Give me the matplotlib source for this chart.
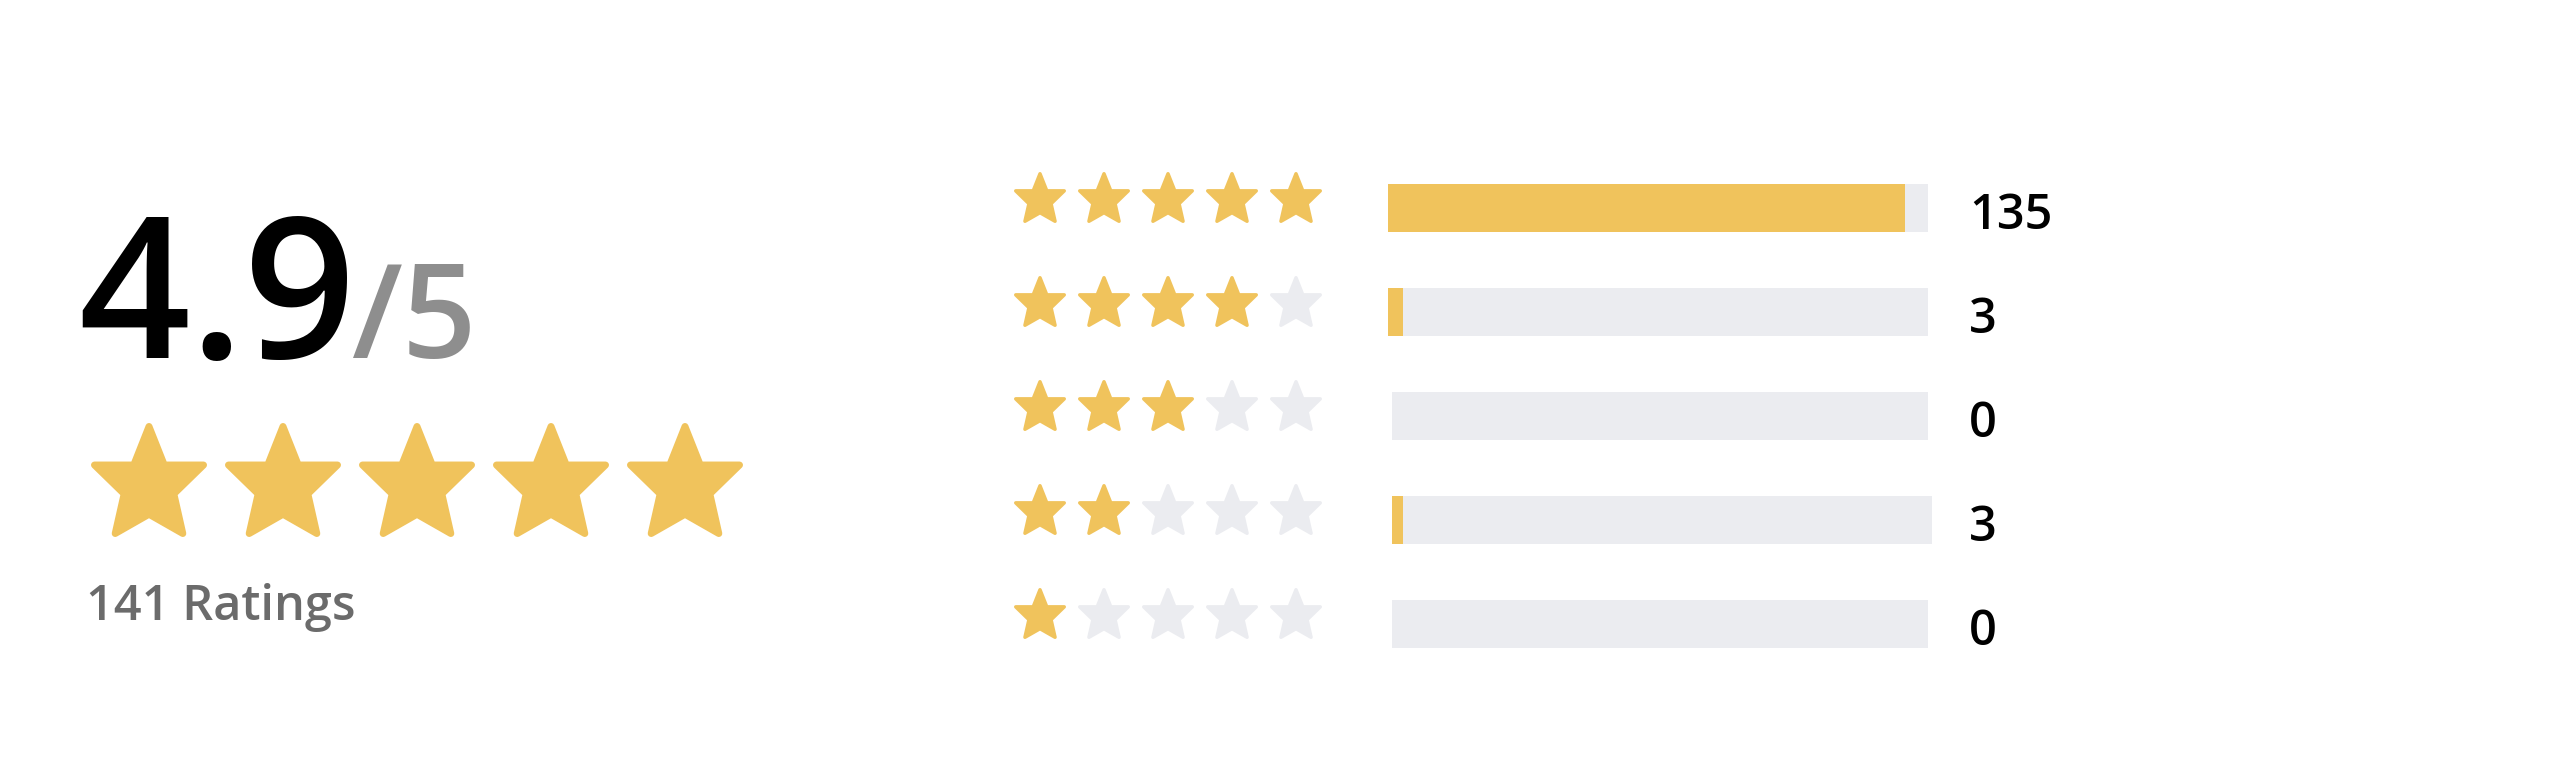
import numpy as np
import matplotlib.pyplot as plt
from matplotlib.patches import Polygon

plt.rcParams['font.family'] = ['Open Sans', 'DejaVu Sans']
plt.rcParams['font.weight'] = 'semibold'

# data
average = 4.9
max_score = 5
star_levels = [5, 4, 3, 2, 1]
counts = [135, 3, 0, 3, 0]
total = sum(counts)

gold = '#f0c35c'
empty = '#ebecf0'

# star outline in a unit box (x right, y down)
STAR = np.array([
    [0.50, 0.00], [0.64, 0.36], [1.00, 0.36], [0.728, 0.63], [0.81, 1.00],
    [0.50, 0.82], [0.19, 1.00], [0.272, 0.63], [0.00, 0.36], [0.36, 0.36],
])


def star(ax, left, top, w, h, color, lw):
    e = lw / 2 * 100 / 72
    pts = np.column_stack([left + e + STAR[:, 0] * (w - 2 * e),
                           top + e + STAR[:, 1] * (h - 2 * e)])
    ax.add_patch(Polygon(pts, closed=True, facecolor=color, edgecolor=color,
                         linewidth=lw, joinstyle='round'))


fig = plt.figure(figsize=(25.68, 7.68), dpi=100)
ax = fig.add_axes([0, 0, 1, 1])
ax.set_xlim(0, 2568)
ax.set_ylim(768, 0)
ax.axis('off')

# left summary
ax.text(78, 358, f'{average}', fontsize=141, color='black', ha='left', va='baseline')
ax.text(352, 358, f'/{max_score}', fontsize=94, color='#8e8e8e', ha='left', va='baseline')
for j in range(max_score):
    star(ax, 91 + 134 * j, 423, 116, 114, gold, lw=5)
ax.text(86, 620, f'{total} Ratings', fontsize=35, color='#6b6b6b', ha='left', va='baseline')

# breakdown rows
row_y = 208 + 104 * np.arange(len(star_levels))
bar_left = [1388, 1388, 1392, 1392, 1392]
bar_right = [1928, 1928, 1928, 1932, 1928]
for i, (lvl, c) in enumerate(zip(star_levels, counts)):
    for j in range(5):
        star(ax, 1014 + 64 * j, row_y[i] - 36, 52, 51, gold if j < lvl else empty, lw=2.5)
    ax.barh(row_y[i], bar_right[i] - bar_left[i], left=bar_left[i], height=48,
            color=empty, linewidth=0)
    fill_end = 1392 + c / total * 536
    if c > 0:
        ax.barh(row_y[i], fill_end - bar_left[i], left=bar_left[i], height=48,
                color=gold, linewidth=0)
    ax.text(1969, row_y[i] + 21, str(c), fontsize=35, color='black',
            ha='left', va='baseline')

plt.savefig('out.png', dpi=100, facecolor='white')
